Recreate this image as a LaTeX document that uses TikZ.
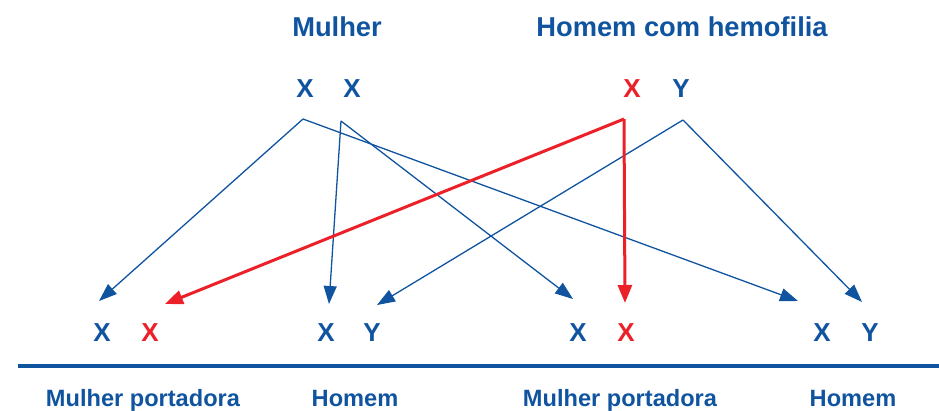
\documentclass[tikz,border=0pt]{standalone}
\usepackage{fontspec}
\setmainfont{Liberation Sans}
\usetikzlibrary{arrows.meta}
\definecolor{dblue}{RGB}{16,84,160}
\definecolor{dred}{RGB}{236,32,40}
\begin{document}
\begin{tikzpicture}[x=1pt,y=-1pt,
  title/.style={anchor=base,inner sep=0pt,text=dblue,font=\fontsize{27.3}{29}\selectfont\bfseries},
  allele/.style={anchor=base,inner sep=0pt,text=dblue,font=\fontsize{26}{28}\selectfont\bfseries},
  ralle/.style={allele,text=dred},
  lab/.style={anchor=base,inner sep=0pt,text=dblue,font=\fontsize{23.6}{25}\selectfont\bfseries},
  bline/.style={draw=dblue,line width=1.3pt,-{Triangle[length=18pt,width=13pt]}},
  rline/.style={draw=dred,line width=3pt,-{Triangle[length=18pt,width=14pt]}}]
\useasboundingbox (0,0) rectangle (939,410);
% titles
\node[title] (tm) at (337,36.5) {Mulher};
\node[title] (th) at (682,36.5) {Homem com hemofilia};
% parents
\node[allele] (m1) at (305,97) {X};
\node[allele] (m2) at (352,97) {X};
\node[ralle] (h1) at (632,97) {X};
\node[allele] (h2) at (681,97) {Y};
% children
\node[allele] (c1a) at (102,341) {X};
\node[ralle]  (c1b) at (150,341) {X};
\node[allele] (c2a) at (326,341) {X};
\node[allele] (c2b) at (372,341) {Y};
\node[allele] (c3a) at (578,341) {X};
\node[ralle]  (c3b) at (626,341) {X};
\node[allele] (c4a) at (822,341) {X};
\node[allele] (c4b) at (870,341) {Y};
% start points
\coordinate (sm1) at (303,119);
\coordinate (sm2) at (341,121);
\coordinate (sh1) at (624,119);
\coordinate (sh2) at (683,120);
% arrow tips
\coordinate (e1a) at (99,301);
\coordinate (e1b) at (165,304);
\coordinate (e2a) at (329,304);
\coordinate (e2b) at (377,305);
\coordinate (e3a) at (573,299);
\coordinate (e3b) at (625,303);
\coordinate (e4a) at (798,301);
\coordinate (e4b) at (862,302);
% connectors
\draw[bline] (sm1) -- (e1a);
\draw[bline] (sm1) -- (e4a);
\draw[bline] (sm2) -- (e2a);
\draw[bline] (sm2) -- (e3a);
\draw[bline] (sh2) -- (e2b);
\draw[bline] (sh2) -- (e4b);
\draw[rline] (sh1) -- (e1b);
\draw[rline] (sh1) -- (e3b);
% base line
\coordinate (la) at (18,366);
\coordinate (lb) at (939,366);
\draw[dblue,line width=4pt] (la) -- (lb);
% labels
\node[lab] (l1) at (143,406.5) {Mulher portadora};
\node[lab] (l2) at (355,406.5) {Homem};
\node[lab] (l3) at (620,406.5) {Mulher portadora};
\node[lab] (l4) at (853,406.5) {Homem};
\end{tikzpicture}
\end{document}
